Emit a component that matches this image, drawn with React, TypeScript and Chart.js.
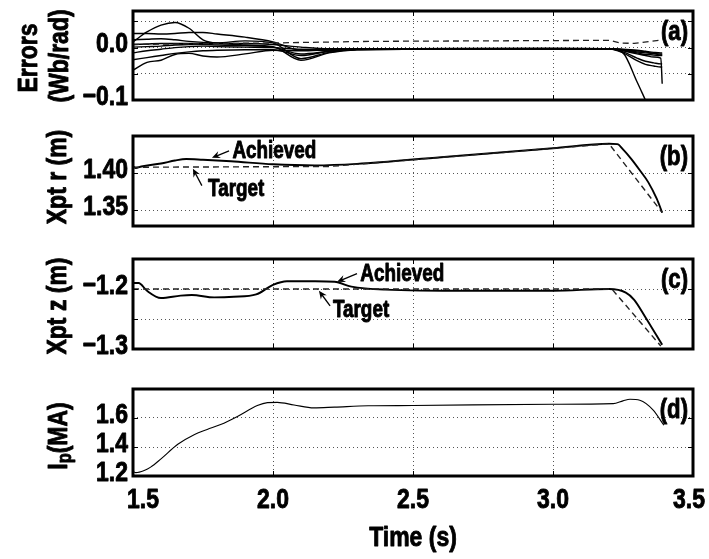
import React, { useEffect, useRef } from 'react';
import { Chart, LinearScale, registerables } from 'chart.js';

// Arial-Narrow-like look: Liberation Sans Bold squeezed horizontally
const FONT = "'Liberation Sans', Arial, sans-serif";
const SX = 0.82;
const EMBOLDEN = 0.9;

class CondensedLinear extends LinearScale {
  static id = 'condensedLinear';
  drawLabels(chartArea: any) {
    const self: any = this;
    if (!self.options.ticks.display) return;
    const ctx = self.ctx;
    const items = self.getLabelItems(chartArea);
    for (const item of items) {
      const o = item.options;
      const label = Array.isArray(item.label) ? item.label.join(' ') : String(item.label);
      if (!label) continue;
      ctx.save();
      ctx.font = item.font.string;
      let tx = o.translation[0];
      if (self.isHorizontal()) {
        // keep the end labels inside the frame like the original figure
        const w = ctx.measureText(label).width * SX;
        const minL = self.left - 6;
        const maxR = self.right + 12;
        if (tx - w / 2 < minL) tx = minL + w / 2;
        if (tx + w / 2 > maxR) tx = maxR - w / 2;
      }
      ctx.translate(tx, o.translation[1]);
      if (o.rotation) ctx.rotate(o.rotation);
      ctx.scale(SX, 1);
      ctx.fillStyle = o.color;
      ctx.strokeStyle = o.color;
      ctx.lineWidth = EMBOLDEN;
      ctx.lineJoin = 'round';
      ctx.setLineDash([]);
      ctx.textAlign = o.textAlign;
      ctx.textBaseline = o.textBaseline;
      ctx.fillText(label, 0, item.textOffset);
      ctx.strokeText(label, 0, item.textOffset);
      ctx.restore();
    }
  }
}

Chart.register(...registerables, CondensedLinear);

// ---------- Data ----------
const xTicks = [1.5, 2.0, 2.5, 3.0, 3.5];

// (a) flux errors
const errT = [1.5, 1.55, 1.6, 1.65, 1.7, 1.75, 1.8, 1.9, 2.0, 2.1, 2.2, 2.3, 2.5, 3.0, 3.2, 3.25, 3.3, 3.33, 3.36, 3.385, 3.39];
const err1 = [0.011, 0.030, 0.043, 0.048, 0.037, 0.015, 0.009, 0.008, 0.006, 0.001, -0.002, -0.002, -0.002, -0.002, -0.002, -0.004, -0.008, -0.010, -0.011, -0.012, -0.012];
const err2 = [0.027, 0.027, 0.026, 0.027, 0.029, 0.029, 0.026, 0.020, 0.011, -0.005, -0.005, -0.003, -0.002, -0.002, -0.002, -0.005, -0.010, -0.013, -0.014, -0.015, -0.015];
const err3 = [0.015, 0.016, 0.017, 0.015, 0.012, 0.010, 0.009, 0.013, 0.009, -0.021, -0.009, -0.004, -0.003, -0.002, -0.002, -0.008, -0.020, -0.026, -0.029, -0.031, -0.031];
const err4 = [0.006, 0.007, 0.008, 0.008, 0.008, 0.008, 0.008, 0.005, 0.002, -0.024, -0.010, -0.004, -0.003, -0.002, -0.002, -0.010, -0.025, -0.032, -0.035, -0.037, -0.037];
const err5 = [0.001, 0.002, 0.003, 0.005, 0.006, 0.006, 0.005, 0.004, 0.001, -0.012, -0.007, -0.003, -0.002, -0.001, -0.002, -0.006, -0.012, -0.015, -0.018, -0.020, -0.069];
const err6 = [-0.010, -0.006, -0.003, 0.000, 0.002, 0.003, 0.002, 0.001, 0.000, -0.003, -0.004, -0.003, -0.002, -0.002, -0.002, -0.003, -0.005, -0.007, -0.009, -0.010, -0.010];
const err7 = [-0.023, -0.019, -0.015, -0.011, -0.008, -0.006, -0.005, -0.004, -0.004, -0.015, -0.007, -0.003, -0.002, -0.002, -0.002, -0.004, -0.006, -0.008, -0.011, -0.014, -0.014];
const err8 = [-0.043, -0.028, -0.024, -0.013, -0.011, -0.016, -0.018, -0.012, -0.005, -0.006, -0.004, -0.003, -0.002, -0.002, -0.002, -0.010, -0.065, -0.100, null, null, null];
const errRefT = [1.5, 2.0, 2.35, 3.2, 3.24, 3.29, 3.38];
const errRef = [0.006, 0.009, 0.012, 0.014, 0.009, 0.008, 0.014];

// (b) X-point r
const rAchT = [1.5, 1.51, 1.53, 1.6, 1.65, 1.69, 1.75, 1.85, 2.0, 2.15, 2.3, 2.6, 3.0, 3.2, 3.23, 3.25, 3.28, 3.31, 3.34, 3.37, 3.39];
const rAch = [1.409, 1.407, 1.409, 1.413, 1.417, 1.419, 1.418, 1.416, 1.412, 1.4105, 1.4125, 1.4215, 1.4335, 1.4395, 1.439, 1.432, 1.419, 1.404, 1.388, 1.366, 1.347];
const rTgtT = [1.5, 2.2, 3.2, 3.39];
const rTgt = [1.408, 1.409, 1.4395, 1.347];

// (c) X-point z
const zAchT = [1.5, 1.52, 1.55, 1.6, 1.67, 1.71, 1.79, 1.86, 1.94, 2.0, 2.05, 2.15, 2.22, 2.28, 2.4, 2.7, 3.0, 3.2, 3.26, 3.29, 3.33, 3.39];
const zAch = [-1.19, -1.19, -1.203, -1.215, -1.211, -1.21, -1.214, -1.213, -1.209, -1.193, -1.187, -1.187, -1.188, -1.196, -1.201, -1.203, -1.203, -1.2, -1.206, -1.218, -1.247, -1.293];
const zTgtT = [1.5, 3.21, 3.385];
const zTgt = [-1.2, -1.2, -1.295];

// (d) plasma current
const ipT = [1.5, 1.51, 1.54, 1.563, 1.6, 1.66, 1.72, 1.765, 1.813, 1.873, 1.944, 1.98, 2.015, 2.075, 2.146, 2.22, 2.34, 2.5, 3.0, 3.215, 3.25, 3.275, 3.31, 3.357, 3.396];
const ipMA = [1.232, 1.223, 1.238, 1.261, 1.318, 1.419, 1.487, 1.521, 1.555, 1.611, 1.686, 1.706, 1.708, 1.69, 1.67, 1.675, 1.684, 1.686, 1.695, 1.699, 1.718, 1.729, 1.722, 1.656, 1.55];

// ---------- helpers ----------
const pts = (t: number[], v: (number | null)[]) => t.map((x, i) => ({ x, y: v[i] }));

const solid = (t: number[], v: (number | null)[], w: number) => ({
  data: pts(t, v),
  borderColor: '#000',
  borderWidth: w,
  pointRadius: 0,
  fill: false,
  tension: 0.4,
  cubicInterpolationMode: 'monotone',
  spanGaps: false,
});
const dashed = (t: number[], v: number[], w: number) => ({
  data: pts(t, v),
  borderColor: '#222',
  borderWidth: w,
  borderDash: [6, 4],
  pointRadius: 0,
  fill: false,
  tension: 0,
});

type Seg = { t: string; sub?: boolean };
type Title = { segs: Seg[]; bx: number; cy: number };
type Note = { text: string; tx: number; ty: number; ax0: number; ay0: number; ax1: number; ay1: number };

interface PanelCfg {
  top: number;
  h: number;
  padTop: number;
  padBottom: number;
  xHeight: number;
  showX: boolean;
  yMin: number;
  yMax: number;
  yStep: number;
  labelStep: number;
  dec: number;
  letter: string;
  titles: Title[];
  notes: Note[];
  datasets: any[];
}

const panels: PanelCfg[] = [
  {
    top: 0, h: 115, padTop: 11, padBottom: 15, xHeight: 0, showX: false,
    yMin: -0.1, yMax: 0.07, yStep: 0.05, labelStep: 0.1, dec: 1, letter: '(a)',
    titles: [
      { segs: [{ t: 'Errors' }], bx: 37, cy: 58 },
      { segs: [{ t: '(Wb/rad)' }], bx: 68, cy: 56 },
    ],
    notes: [],
    datasets: [
      dashed(errRefT, errRef, 1.3),
      solid(errT, err1, 1.4), solid(errT, err2, 1.4), solid(errT, err3, 1.4), solid(errT, err4, 1.4),
      solid(errT, err5, 1.4), solid(errT, err6, 1.4), solid(errT, err7, 1.4), solid(errT, err8, 1.4),
    ],
  },
  {
    top: 115, h: 125, padTop: 21, padBottom: 14, xHeight: 0, showX: false,
    yMin: 1.329, yMax: 1.45, yStep: 0.05, labelStep: 0.05, dec: 2, letter: '(b)',
    titles: [{ segs: [{ t: 'Xpt r (m)' }], bx: 66, cy: 62 }],
    notes: [
      { text: 'Achieved', tx: 1.855, ty: 1.4287, ax0: 1.843, ay0: 1.430, ax1: 1.782, ay1: 1.4207 },
      { text: 'Target', tx: 1.768, ty: 1.378, ax0: 1.746, ay0: 1.3833, ax1: 1.714, ay1: 1.406 },
    ],
    datasets: [dashed(rTgtT, rTgt, 1.4), solid(rAchT, rAch, 1.9)],
  },
  {
    top: 240, h: 125, padTop: 19, padBottom: 16, xHeight: 0, showX: false,
    yMin: -1.3, yMax: -1.15, yStep: 0.05, labelStep: 0.1, dec: 1, letter: '(c)',
    titles: [{ segs: [{ t: 'Xpt z (m)' }], bx: 66, cy: 66 }],
    notes: [
      { text: 'Achieved', tx: 2.312, ty: -1.176, ax0: 2.3, ay0: -1.1745, ax1: 2.229, ay1: -1.188 },
      { text: 'Target', tx: 2.214, ty: -1.236, ax0: 2.204, ay0: -1.228, ax1: 2.164, ay1: -1.203 },
    ],
    datasets: [dashed(zTgtT, zTgt, 1.4), solid(zAchT, zAch, 1.9)],
  },
  {
    top: 365, h: 194, padTop: 24, padBottom: 0, xHeight: 83, showX: true,
    yMin: 1.2, yMax: 1.8, yStep: 0.2, labelStep: 0.2, dec: 1, letter: '(d)',
    titles: [{ segs: [{ t: 'I' }, { t: 'p', sub: true }, { t: '(MA)' }], bx: 67, cy: 71 }],
    notes: [],
    datasets: [solid(ipT, ipMA, 1.1)],
  },
];

const fmt = (v: number, dec: number) => {
  const r = Math.round(v * 1e6) / 1e6 + 0;
  return r.toFixed(dec).replace('-', '\u2212');
};

function boldFill(ctx: any, text: string, x: number, y: number) {
  ctx.lineWidth = EMBOLDEN;
  ctx.lineJoin = 'round';
  ctx.setLineDash([]);
  ctx.fillText(text, x, y);
  ctx.strokeText(text, x, y);
}

function condensedText(ctx: any, text: string, x: number, y: number, font: string, align: string, baseline: string) {
  ctx.save();
  ctx.translate(x, y);
  ctx.scale(SX, 1);
  ctx.font = font;
  ctx.textAlign = align;
  ctx.textBaseline = baseline;
  boldFill(ctx, text, 0, 0);
  ctx.restore();
}

function makeFramePlugin(cfg: PanelCfg) {
  return {
    id: 'frame' + cfg.letter.replace(/[()]/g, ''),
    afterDraw(chart: any) {
      const { ctx, chartArea: a } = chart;
      const xs = chart.scales.x;
      const ys = chart.scales.y;
      ctx.save();
      // inner tick marks
      ctx.strokeStyle = '#000';
      ctx.lineWidth = 1;
      ctx.setLineDash([]);
      ctx.beginPath();
      xs.ticks.forEach((t: any) => {
        const px = Math.round(xs.getPixelForValue(t.value)) + 0.5;
        if (px <= a.left + 2 || px >= a.right - 2) return;
        ctx.moveTo(px, a.top); ctx.lineTo(px, a.top + 5);
        ctx.moveTo(px, a.bottom); ctx.lineTo(px, a.bottom - 5);
      });
      ys.ticks.forEach((t: any) => {
        const py = Math.round(ys.getPixelForValue(t.value)) + 0.5;
        if (py <= a.top + 2 || py >= a.bottom - 2) return;
        ctx.moveTo(a.left, py); ctx.lineTo(a.left + 5, py);
        ctx.moveTo(a.right, py); ctx.lineTo(a.right - 5, py);
      });
      ctx.stroke();
      // box
      ctx.lineWidth = 3;
      ctx.strokeRect(a.left, a.top, a.right - a.left, a.bottom - a.top);

      ctx.fillStyle = '#000';
      ctx.strokeStyle = '#000';
      // panel letter
      condensedText(ctx, cfg.letter, a.right - 5, a.top + 22, `bold 27px ${FONT}`, 'right', 'middle');

      // annotations
      cfg.notes.forEach((n) => {
        condensedText(ctx, n.text, xs.getPixelForValue(n.tx), ys.getPixelForValue(n.ty), `bold 23px ${FONT}`, 'left', 'middle');
        const x0 = xs.getPixelForValue(n.ax0), y0 = ys.getPixelForValue(n.ay0);
        const x1 = xs.getPixelForValue(n.ax1), y1 = ys.getPixelForValue(n.ay1);
        const ang = Math.atan2(y1 - y0, x1 - x0);
        ctx.lineWidth = 1.3;
        ctx.beginPath();
        ctx.moveTo(x0, y0);
        ctx.lineTo(x1 - 4 * Math.cos(ang), y1 - 4 * Math.sin(ang));
        ctx.stroke();
        const L = 9, W = 0.42;
        ctx.beginPath();
        ctx.moveTo(x1, y1);
        ctx.lineTo(x1 - L * Math.cos(ang - W), y1 - L * Math.sin(ang - W));
        ctx.lineTo(x1 - L * 0.6 * Math.cos(ang), y1 - L * 0.6 * Math.sin(ang));
        ctx.lineTo(x1 - L * Math.cos(ang + W), y1 - L * Math.sin(ang + W));
        ctx.closePath();
        ctx.fill();
      });

      // x-axis title (bottom panel only)
      if (cfg.showX) {
        condensedText(ctx, 'Time (s)', (a.left + a.right) / 2, a.bottom + 62, `bold 28px ${FONT}`, 'center', 'middle');
      }

      // y titles (rotated)
      cfg.titles.forEach((tt) => {
        ctx.save();
        ctx.translate(tt.bx, tt.cy);
        ctx.rotate(-Math.PI / 2);
        ctx.scale(SX, 1);
        ctx.textAlign = 'left';
        ctx.textBaseline = 'alphabetic';
        const fonts = tt.segs.map((s) => (s.sub ? `bold 20px ${FONT}` : `bold 28px ${FONT}`));
        const widths = tt.segs.map((s, i) => { ctx.font = fonts[i]; return ctx.measureText(s.t).width; });
        const total = widths.reduce((p, c) => p + c, 0);
        let x = -total / 2;
        tt.segs.forEach((s, i) => {
          ctx.font = fonts[i];
          boldFill(ctx, s.t, x, s.sub ? 4 : 0);
          x += widths[i];
        });
        ctx.restore();
      });
      ctx.restore();
    },
  };
}

function Panel({ cfg }: { cfg: PanelCfg }) {
  const ref = useRef<HTMLCanvasElement | null>(null);
  useEffect(() => {
    if (!ref.current) return;
    const tickFont = { family: FONT, size: 28, weight: 'bold' as const };
    const chart = new Chart(ref.current, {
      type: 'line',
      data: { datasets: cfg.datasets },
      options: {
        animation: false,
        responsive: false,
        devicePixelRatio: 1,
        events: [],
        layout: { padding: { left: 0, right: 16, top: cfg.padTop, bottom: cfg.padBottom } },
        plugins: { legend: { display: false }, tooltip: { enabled: false }, title: { display: false } },
        scales: {
          x: {
            type: 'condensedLinear',
            min: 1.5,
            max: 3.5,
            afterBuildTicks: (s: any) => { s.ticks = xTicks.map((v) => ({ value: v })); },
            afterFit: (s: any) => {
              s.height = cfg.xHeight;
              s.paddingLeft = 0; s.paddingRight = 0; s.paddingTop = 0; s.paddingBottom = 0;
            },
            ticks: {
              display: cfg.showX,
              color: '#000',
              font: tickFont,
              padding: 7,
              maxRotation: 0,
              autoSkip: false,
              callback: (v: any) => Number(v).toFixed(1),
            },
            grid: { color: '#555', lineWidth: 1, drawTicks: false },
            border: { display: false, dash: [1, 3] },
          },
          y: {
            type: 'condensedLinear',
            min: cfg.yMin,
            max: cfg.yMax,
            afterFit: (s: any) => {
              s.width = 133;
              s.paddingLeft = 0; s.paddingRight = 0; s.paddingTop = 0; s.paddingBottom = 0;
            },
            ticks: {
              stepSize: cfg.yStep,
              includeBounds: false,
              autoSkip: false,
              color: '#000',
              font: tickFont,
              padding: 5,
              labelOffset: -3,
              callback: (v: any) => {
                const n = Number(v);
                if (Math.abs(n - cfg.yMax) < 1e-6) return '';
                const q = n / cfg.labelStep;
                if (Math.abs(q - Math.round(q)) > 1e-4) return '';
                return fmt(n, cfg.dec);
              },
            },
            grid: { color: '#555', lineWidth: 1, drawTicks: false },
            border: { display: false, dash: [1, 3] },
          },
        },
      },
      plugins: [makeFramePlugin(cfg)],
    } as any);
    return () => chart.destroy();
  }, [cfg]);
  return (
    <canvas
      ref={ref}
      width={709}
      height={cfg.h}
      style={{ position: 'absolute', left: 0, top: cfg.top, width: 709, height: cfg.h }}
    />
  );
}

export default function App() {
  return (
    <div style={{ position: 'absolute', left: 0, top: 0, width: 709, height: 559, background: '#fff', overflow: 'hidden' }}>
      {panels.map((p) => (
        <Panel key={p.letter} cfg={p} />
      ))}
    </div>
  );
}
